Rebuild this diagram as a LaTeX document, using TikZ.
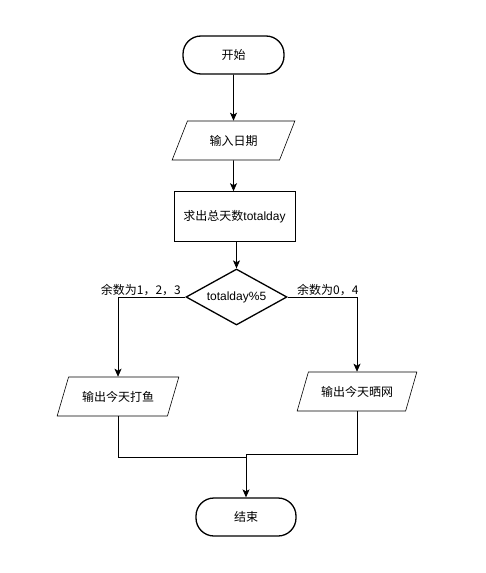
\documentclass[tikz,border=0pt]{standalone}
\usepackage{fontspec}
\setmainfont{Liberation Sans}
\newfontfamily\cjk{Noto Sans CJK SC}
\usepackage{tikz}
\usetikzlibrary{shapes.geometric,arrows.meta,positioning,calc}
\tikzset{
  term/.style={draw,rounded corners=18pt,line width=1.3pt,minimum width=101pt,minimum height=38pt,align=center},
  iobox/.style={draw,trapezium,trapezium left angle=63,trapezium right angle=117,trapezium stretches=true,line width=0.6pt,minimum width=122pt,minimum height=39pt,align=center},
  procbox/.style={draw,rectangle,line width=0.6pt,minimum width=121pt,minimum height=50pt,align=center},
  decbox/.style={draw,diamond,aspect=1.8,line width=1.3pt,minimum width=101pt,minimum height=56pt,inner sep=0pt},
}

\begin{document}
\begin{tikzpicture}[
    x=1pt,y=-1pt,
    font=\fontsize{12}{14}\selectfont,
    arrow/.style={-{Stealth[length=8pt,width=7pt,inset=2pt]},line width=0.7pt},
    line/.style={line width=0.7pt},
    label/.style={font=\fontsize{12}{14}\selectfont,inner sep=1pt},
  ]
    \useasboundingbox (0,0) rectangle (485,573);

    %────────── START ──────────────
    \node[term] (start) at (233.5,55) {\cjk 开始};

    %────────── INPUT ──────────────
    \node[iobox,minimum width=123pt] (input) at (233.5,140.5) {\cjk 输入日期};
    \draw[arrow] (start) -- (input);

    %────────── TOTAL ──────────────
    \node[procbox] (calc) at (234.5,216.5) {{\cjk 求出总天数}totalday};
    \draw[arrow] (input) -- (input |- calc.north);

    %────────── MOD 5 ──────────────
    \node[decbox] (judge) at (236.5,297) {totalday\%5};
    \draw[arrow] (calc.south -| judge.north) -- (judge.north);

    %────────── BRANCHES ───────────
    \node[iobox] (fish) at (118,396.5) {\cjk 输出今天打鱼};
    \node[iobox,minimum width=120pt] (net) at (357,391.5) {\cjk 输出今天晒网};
    \draw[arrow] (judge.west) -| node[pos=0.33,above,label]{\cjk 余数为1，2，3} (fish.north);
    \draw[arrow] (judge.east) -| node[pos=0.29,above,label]{\cjk 余数为0，4} (net.north);

    %────────── END ────────────────
    \node[term,minimum width=100pt] (finish) at (246,517) {\cjk 结束};
    \coordinate (mergeL) at (246,457);
    \coordinate (mergeR) at (246,454);
    \draw[line] (fish.south) |- (mergeL);
    \draw[arrow] (net.south) |- (mergeR) -- (finish.north);
  \end{tikzpicture}
\end{document}
